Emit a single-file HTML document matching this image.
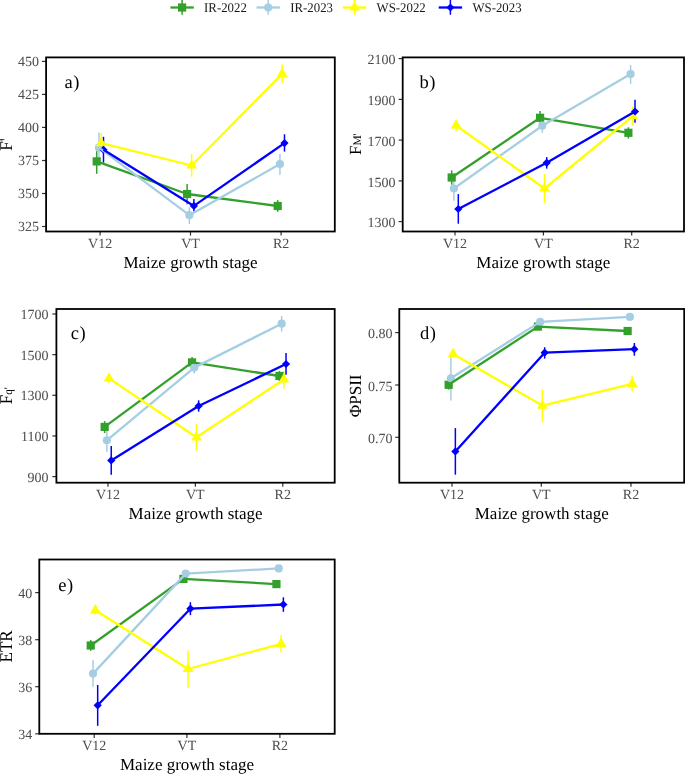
<!DOCTYPE html>
<html><head><meta charset="utf-8"><title>Maize growth stage chart</title>
<style>
html,body{margin:0;padding:0;background:#fff;}
body{width:685px;height:774px;overflow:hidden;}
svg{display:block;}
text{font-family:"Liberation Serif", serif;text-rendering:geometricPrecision;}
svg{will-change:transform;}
.yt{font-size:14px;fill:#4D4D4D;text-anchor:end;}
.xt{font-size:14px;fill:#4D4D4D;text-anchor:middle;}
.xtitle{font-size:17px;fill:#000;text-anchor:middle;}
.ytitle{font-size:17px;fill:#000;text-anchor:middle;}
.yl{font-size:17.9px;}
.sub{font-size:11.5px;}
.plab{font-size:18.5px;letter-spacing:0.6px;fill:#000;}
.leg{font-size:13.3px;fill:#1a1a1a;}
</style></head>
<body>
<svg width="685" height="774" viewBox="0 0 685 774">
<rect width="685" height="774" fill="#fff"/>
<line x1="170.4" y1="7.5" x2="193.8" y2="7.5" stroke="#33A02C" stroke-width="2.3"/>
<line x1="182.1" y1="-0.5" x2="182.1" y2="14.7" stroke="#33A02C" stroke-width="1.5"/>
<rect x="178" y="3.4" width="8.2" height="8.2" fill="#33A02C"/>
<text transform="translate(204.1,11.8) scale(0.965,1)" class="leg">IR-2022</text>
<line x1="256.5" y1="7.5" x2="279.9" y2="7.5" stroke="#A6CEE3" stroke-width="2.3"/>
<line x1="268.2" y1="-0.5" x2="268.2" y2="14.7" stroke="#A6CEE3" stroke-width="1.5"/>
<circle cx="268.2" cy="7.5" r="4.1" fill="#A6CEE3"/>
<text transform="translate(290.2,11.8) scale(0.965,1)" class="leg">IR-2023</text>
<line x1="342.9" y1="7.5" x2="366.3" y2="7.5" stroke="#FFFF00" stroke-width="2.3"/>
<line x1="354.6" y1="-0.5" x2="354.6" y2="14.7" stroke="#FFFF00" stroke-width="1.5"/>
<polygon points="354.6,1.25 360.01,10.62 349.19,10.62" fill="#FFFF00"/>
<text transform="translate(376.6,11.8) scale(0.965,1)" class="leg">WS-2022</text>
<line x1="438.7" y1="7.5" x2="462.1" y2="7.5" stroke="#0000FF" stroke-width="2.3"/>
<line x1="450.4" y1="-0.5" x2="450.4" y2="14.7" stroke="#0000FF" stroke-width="1.5"/>
<polygon points="450.4,3.4 454.5,7.5 450.4,11.6 446.3,7.5" fill="#0000FF"/>
<text transform="translate(472.4,11.8) scale(0.965,1)" class="leg">WS-2023</text>
<line x1="42" y1="61.4" x2="46.1" y2="61.4" stroke="#333333" stroke-width="1.2"/>
<text x="38.9" y="66.15" class="yt">450</text>
<line x1="42" y1="94.4" x2="46.1" y2="94.4" stroke="#333333" stroke-width="1.2"/>
<text x="38.9" y="99.15" class="yt">425</text>
<line x1="42" y1="127.4" x2="46.1" y2="127.4" stroke="#333333" stroke-width="1.2"/>
<text x="38.9" y="132.15" class="yt">400</text>
<line x1="42" y1="160.5" x2="46.1" y2="160.5" stroke="#333333" stroke-width="1.2"/>
<text x="38.9" y="165.25" class="yt">375</text>
<line x1="42" y1="193.5" x2="46.1" y2="193.5" stroke="#333333" stroke-width="1.2"/>
<text x="38.9" y="198.25" class="yt">350</text>
<line x1="42" y1="226.5" x2="46.1" y2="226.5" stroke="#333333" stroke-width="1.2"/>
<text x="38.9" y="231.25" class="yt">325</text>
<line x1="100.1" y1="231.5" x2="100.1" y2="235.6" stroke="#333333" stroke-width="1.2"/>
<text x="100.1" y="247.8" class="xt">V12</text>
<line x1="190.5" y1="231.5" x2="190.5" y2="235.6" stroke="#333333" stroke-width="1.2"/>
<text x="190.5" y="247.8" class="xt">VT</text>
<line x1="281.1" y1="231.5" x2="281.1" y2="235.6" stroke="#333333" stroke-width="1.2"/>
<text x="281.1" y="247.8" class="xt">R2</text>
<text transform="translate(190.45,267.5) scale(1,1)" class="xtitle">Maize growth stage</text>
<line x1="96.71" y1="151.1" x2="96.71" y2="173.8" stroke="#33A02C" stroke-width="1.5"/>
<line x1="187.11" y1="184.1" x2="187.11" y2="204.3" stroke="#33A02C" stroke-width="1.5"/>
<line x1="277.71" y1="200.1" x2="277.71" y2="211.8" stroke="#33A02C" stroke-width="1.5"/>
<line x1="98.97" y1="132.4" x2="98.97" y2="163" stroke="#A6CEE3" stroke-width="1.5"/>
<line x1="189.37" y1="207.4" x2="189.37" y2="224" stroke="#A6CEE3" stroke-width="1.5"/>
<line x1="279.97" y1="154.1" x2="279.97" y2="174.7" stroke="#A6CEE3" stroke-width="1.5"/>
<line x1="101.23" y1="132.9" x2="101.23" y2="150.5" stroke="#FFFF00" stroke-width="1.5"/>
<line x1="191.63" y1="154.1" x2="191.63" y2="176.7" stroke="#FFFF00" stroke-width="1.5"/>
<line x1="282.23" y1="64.6" x2="282.23" y2="82.7" stroke="#FFFF00" stroke-width="1.5"/>
<line x1="103.49" y1="136.8" x2="103.49" y2="162.7" stroke="#0000FF" stroke-width="1.5"/>
<line x1="193.89" y1="199.1" x2="193.89" y2="211.5" stroke="#0000FF" stroke-width="1.5"/>
<line x1="284.49" y1="134.3" x2="284.49" y2="151.6" stroke="#0000FF" stroke-width="1.5"/>
<rect x="92.61" y="157.3" width="8.2" height="8.2" fill="#33A02C"/>
<rect x="183.01" y="189.9" width="8.2" height="8.2" fill="#33A02C"/>
<rect x="273.61" y="201.9" width="8.2" height="8.2" fill="#33A02C"/>
<circle cx="98.97" cy="147.7" r="4.1" fill="#A6CEE3"/>
<circle cx="189.37" cy="215.2" r="4.1" fill="#A6CEE3"/>
<circle cx="279.97" cy="164.1" r="4.1" fill="#A6CEE3"/>
<polygon points="101.23,136.95 106.64,146.32 95.82,146.32" fill="#FFFF00"/>
<polygon points="191.63,159.25 197.04,168.62 186.22,168.62" fill="#FFFF00"/>
<polygon points="282.23,67.55 287.64,76.92 276.82,76.92" fill="#FFFF00"/>
<polygon points="103.49,145.65 107.59,149.75 103.49,153.85 99.39,149.75" fill="#0000FF"/>
<polygon points="193.89,201.8 197.99,205.9 193.89,210 189.79,205.9" fill="#0000FF"/>
<polygon points="284.49,139 288.59,143.1 284.49,147.2 280.39,143.1" fill="#0000FF"/>
<polyline points="96.71,161.4 187.11,194 277.71,206" fill="none" stroke="#33A02C" stroke-width="2.3" stroke-linejoin="round"/>
<polyline points="98.97,147.7 189.37,215.2 279.97,164.1" fill="none" stroke="#A6CEE3" stroke-width="2.3" stroke-linejoin="round"/>
<polyline points="101.23,143.2 191.63,165.5 282.23,73.8" fill="none" stroke="#FFFF00" stroke-width="2.3" stroke-linejoin="round"/>
<polyline points="103.49,149.75 193.89,205.9 284.49,143.1" fill="none" stroke="#0000FF" stroke-width="2.3" stroke-linejoin="round"/>
<rect x="46.1" y="57.4" width="288.7" height="174.1" fill="none" stroke="#000" stroke-width="1.8"/>
<text x="64.4" y="88.2" class="plab">a)</text>
<line x1="398.6" y1="58.6" x2="402.7" y2="58.6" stroke="#333333" stroke-width="1.2"/>
<text x="395.5" y="64.35" class="yt">2100</text>
<line x1="398.6" y1="99.4" x2="402.7" y2="99.4" stroke="#333333" stroke-width="1.2"/>
<text x="395.5" y="105.15" class="yt">1900</text>
<line x1="398.6" y1="140.1" x2="402.7" y2="140.1" stroke="#333333" stroke-width="1.2"/>
<text x="395.5" y="145.85" class="yt">1700</text>
<line x1="398.6" y1="180.9" x2="402.7" y2="180.9" stroke="#333333" stroke-width="1.2"/>
<text x="395.5" y="186.65" class="yt">1500</text>
<line x1="398.6" y1="221.6" x2="402.7" y2="221.6" stroke="#333333" stroke-width="1.2"/>
<text x="395.5" y="227.35" class="yt">1300</text>
<line x1="455" y1="231.5" x2="455" y2="235.6" stroke="#333333" stroke-width="1.2"/>
<text x="455" y="247.8" class="xt">V12</text>
<line x1="543.4" y1="231.5" x2="543.4" y2="235.6" stroke="#333333" stroke-width="1.2"/>
<text x="543.4" y="247.8" class="xt">VT</text>
<line x1="631.7" y1="231.5" x2="631.7" y2="235.6" stroke="#333333" stroke-width="1.2"/>
<text x="631.7" y="247.8" class="xt">R2</text>
<text transform="translate(543.35,267.5) scale(1,1)" class="xtitle">Maize growth stage</text>
<line x1="451.69" y1="170.3" x2="451.69" y2="184.7" stroke="#33A02C" stroke-width="1.5"/>
<line x1="540.09" y1="111.1" x2="540.09" y2="124.5" stroke="#33A02C" stroke-width="1.5"/>
<line x1="628.39" y1="127.3" x2="628.39" y2="138.6" stroke="#33A02C" stroke-width="1.5"/>
<line x1="453.9" y1="176.3" x2="453.9" y2="200.7" stroke="#A6CEE3" stroke-width="1.5"/>
<line x1="542.3" y1="118.6" x2="542.3" y2="132.8" stroke="#A6CEE3" stroke-width="1.5"/>
<line x1="630.6" y1="64.9" x2="630.6" y2="83.8" stroke="#A6CEE3" stroke-width="1.5"/>
<line x1="456.1" y1="119.5" x2="456.1" y2="131.5" stroke="#FFFF00" stroke-width="1.5"/>
<line x1="544.5" y1="174.1" x2="544.5" y2="202.9" stroke="#FFFF00" stroke-width="1.5"/>
<line x1="632.8" y1="106.6" x2="632.8" y2="125.7" stroke="#FFFF00" stroke-width="1.5"/>
<line x1="458.31" y1="194.1" x2="458.31" y2="223.7" stroke="#0000FF" stroke-width="1.5"/>
<line x1="546.71" y1="157.1" x2="546.71" y2="168.6" stroke="#0000FF" stroke-width="1.5"/>
<line x1="635.01" y1="99.8" x2="635.01" y2="122.8" stroke="#0000FF" stroke-width="1.5"/>
<rect x="447.59" y="173.4" width="8.2" height="8.2" fill="#33A02C"/>
<rect x="535.99" y="113.7" width="8.2" height="8.2" fill="#33A02C"/>
<rect x="624.29" y="128.7" width="8.2" height="8.2" fill="#33A02C"/>
<circle cx="453.9" cy="188.5" r="4.1" fill="#A6CEE3"/>
<circle cx="542.3" cy="125.7" r="4.1" fill="#A6CEE3"/>
<circle cx="630.6" cy="74.1" r="4.1" fill="#A6CEE3"/>
<polygon points="456.1,119.25 461.52,128.62 450.69,128.62" fill="#FFFF00"/>
<polygon points="544.5,182.25 549.92,191.62 539.09,191.62" fill="#FFFF00"/>
<polygon points="632.8,109.95 638.22,119.32 627.39,119.32" fill="#FFFF00"/>
<polygon points="458.31,204.9 462.41,209 458.31,213.1 454.21,209" fill="#0000FF"/>
<polygon points="546.71,158.7 550.81,162.8 546.71,166.9 542.61,162.8" fill="#0000FF"/>
<polygon points="635.01,107.4 639.11,111.5 635.01,115.6 630.91,111.5" fill="#0000FF"/>
<polyline points="451.69,177.5 540.09,117.8 628.39,132.8" fill="none" stroke="#33A02C" stroke-width="2.3" stroke-linejoin="round"/>
<polyline points="453.9,188.5 542.3,125.7 630.6,74.1" fill="none" stroke="#A6CEE3" stroke-width="2.3" stroke-linejoin="round"/>
<polyline points="456.1,125.5 544.5,188.5 632.8,116.2" fill="none" stroke="#FFFF00" stroke-width="2.3" stroke-linejoin="round"/>
<polyline points="458.31,209 546.71,162.8 635.01,111.5" fill="none" stroke="#0000FF" stroke-width="2.3" stroke-linejoin="round"/>
<rect x="402.7" y="57.4" width="281.3" height="174.1" fill="none" stroke="#000" stroke-width="1.8"/>
<text x="419.4" y="88.2" class="plab">b)</text>
<line x1="52.3" y1="314" x2="56.4" y2="314" stroke="#333333" stroke-width="1.2"/>
<text x="48.5" y="318.9" class="yt">1700</text>
<line x1="52.3" y1="354.65" x2="56.4" y2="354.65" stroke="#333333" stroke-width="1.2"/>
<text x="48.5" y="359.55" class="yt">1500</text>
<line x1="52.3" y1="395.3" x2="56.4" y2="395.3" stroke="#333333" stroke-width="1.2"/>
<text x="48.5" y="400.2" class="yt">1300</text>
<line x1="52.3" y1="435.95" x2="56.4" y2="435.95" stroke="#333333" stroke-width="1.2"/>
<text x="48.5" y="440.85" class="yt">1100</text>
<line x1="52.3" y1="476.6" x2="56.4" y2="476.6" stroke="#333333" stroke-width="1.2"/>
<text x="48.5" y="481.5" class="yt">900</text>
<line x1="107.95" y1="482.7" x2="107.95" y2="486.8" stroke="#333333" stroke-width="1.2"/>
<text x="107.95" y="499" class="xt">V12</text>
<line x1="195.35" y1="482.7" x2="195.35" y2="486.8" stroke="#333333" stroke-width="1.2"/>
<text x="195.35" y="499" class="xt">VT</text>
<line x1="282.75" y1="482.7" x2="282.75" y2="486.8" stroke="#333333" stroke-width="1.2"/>
<text x="282.75" y="499" class="xt">R2</text>
<text transform="translate(195.55,518.7) scale(1,1)" class="xtitle">Maize growth stage</text>
<line x1="104.67" y1="421.1" x2="104.67" y2="433.1" stroke="#33A02C" stroke-width="1.5"/>
<line x1="192.07" y1="356.9" x2="192.07" y2="367.9" stroke="#33A02C" stroke-width="1.5"/>
<line x1="279.47" y1="370.9" x2="279.47" y2="381.1" stroke="#33A02C" stroke-width="1.5"/>
<line x1="106.86" y1="428.8" x2="106.86" y2="451.8" stroke="#A6CEE3" stroke-width="1.5"/>
<line x1="194.26" y1="361.7" x2="194.26" y2="373.5" stroke="#A6CEE3" stroke-width="1.5"/>
<line x1="281.66" y1="316" x2="281.66" y2="331.6" stroke="#A6CEE3" stroke-width="1.5"/>
<line x1="109.04" y1="373.5" x2="109.04" y2="383.3" stroke="#FFFF00" stroke-width="1.5"/>
<line x1="196.44" y1="424.1" x2="196.44" y2="450.5" stroke="#FFFF00" stroke-width="1.5"/>
<line x1="283.84" y1="370.8" x2="283.84" y2="388.8" stroke="#FFFF00" stroke-width="1.5"/>
<line x1="111.23" y1="446.1" x2="111.23" y2="474.7" stroke="#0000FF" stroke-width="1.5"/>
<line x1="198.63" y1="400.3" x2="198.63" y2="411.7" stroke="#0000FF" stroke-width="1.5"/>
<line x1="286.03" y1="353.1" x2="286.03" y2="374.8" stroke="#0000FF" stroke-width="1.5"/>
<rect x="100.57" y="422.8" width="8.2" height="8.2" fill="#33A02C"/>
<rect x="187.97" y="358.3" width="8.2" height="8.2" fill="#33A02C"/>
<rect x="275.37" y="371.9" width="8.2" height="8.2" fill="#33A02C"/>
<circle cx="106.86" cy="440.3" r="4.1" fill="#A6CEE3"/>
<circle cx="194.26" cy="367.6" r="4.1" fill="#A6CEE3"/>
<circle cx="281.66" cy="323.7" r="4.1" fill="#A6CEE3"/>
<polygon points="109.04,372.15 114.45,381.52 103.63,381.52" fill="#FFFF00"/>
<polygon points="196.44,431.05 201.85,440.42 191.03,440.42" fill="#FFFF00"/>
<polygon points="283.84,373.25 289.25,382.62 278.43,382.62" fill="#FFFF00"/>
<polygon points="111.23,456.3 115.33,460.4 111.23,464.5 107.13,460.4" fill="#0000FF"/>
<polygon points="198.63,401.9 202.73,406 198.63,410.1 194.53,406" fill="#0000FF"/>
<polygon points="286.03,359.9 290.13,364 286.03,368.1 281.93,364" fill="#0000FF"/>
<polyline points="104.67,426.9 192.07,362.4 279.47,376" fill="none" stroke="#33A02C" stroke-width="2.3" stroke-linejoin="round"/>
<polyline points="106.86,440.3 194.26,367.6 281.66,323.7" fill="none" stroke="#A6CEE3" stroke-width="2.3" stroke-linejoin="round"/>
<polyline points="109.04,378.4 196.44,437.3 283.84,379.5" fill="none" stroke="#FFFF00" stroke-width="2.3" stroke-linejoin="round"/>
<polyline points="111.23,460.4 198.63,406 286.03,364" fill="none" stroke="#0000FF" stroke-width="2.3" stroke-linejoin="round"/>
<rect x="56.4" y="309" width="278.3" height="173.7" fill="none" stroke="#000" stroke-width="1.8"/>
<text x="70.8" y="338.8" class="plab">c)</text>
<line x1="395.2" y1="332.6" x2="399.3" y2="332.6" stroke="#333333" stroke-width="1.2"/>
<text x="392.4" y="338.25" class="yt">0.80</text>
<line x1="395.2" y1="385" x2="399.3" y2="385" stroke="#333333" stroke-width="1.2"/>
<text x="392.4" y="390.65" class="yt">0.75</text>
<line x1="395.2" y1="437.3" x2="399.3" y2="437.3" stroke="#333333" stroke-width="1.2"/>
<text x="392.4" y="442.95" class="yt">0.70</text>
<line x1="452" y1="482.7" x2="452" y2="486.8" stroke="#333333" stroke-width="1.2"/>
<text x="452" y="499" class="xt">V12</text>
<line x1="541.3" y1="482.7" x2="541.3" y2="486.8" stroke="#333333" stroke-width="1.2"/>
<text x="541.3" y="499" class="xt">VT</text>
<line x1="631" y1="482.7" x2="631" y2="486.8" stroke="#333333" stroke-width="1.2"/>
<text x="631" y="499" class="xt">R2</text>
<text transform="translate(541.75,518.7) scale(1,1)" class="xtitle">Maize growth stage</text>
<line x1="448.64" y1="380" x2="448.64" y2="389.6" stroke="#33A02C" stroke-width="1.5"/>
<line x1="537.94" y1="324" x2="537.94" y2="329" stroke="#33A02C" stroke-width="1.5"/>
<line x1="627.64" y1="328.5" x2="627.64" y2="333.5" stroke="#33A02C" stroke-width="1.5"/>
<line x1="450.88" y1="357.2" x2="450.88" y2="400.5" stroke="#A6CEE3" stroke-width="1.5"/>
<line x1="540.18" y1="319.5" x2="540.18" y2="324.3" stroke="#A6CEE3" stroke-width="1.5"/>
<line x1="629.88" y1="314.5" x2="629.88" y2="319.3" stroke="#A6CEE3" stroke-width="1.5"/>
<line x1="453.12" y1="352" x2="453.12" y2="356.2" stroke="#FFFF00" stroke-width="1.5"/>
<line x1="542.42" y1="389.6" x2="542.42" y2="422.2" stroke="#FFFF00" stroke-width="1.5"/>
<line x1="632.12" y1="376.1" x2="632.12" y2="391.3" stroke="#FFFF00" stroke-width="1.5"/>
<line x1="455.36" y1="428.1" x2="455.36" y2="474.7" stroke="#0000FF" stroke-width="1.5"/>
<line x1="544.66" y1="347.2" x2="544.66" y2="358.6" stroke="#0000FF" stroke-width="1.5"/>
<line x1="634.36" y1="343" x2="634.36" y2="355.7" stroke="#0000FF" stroke-width="1.5"/>
<rect x="444.54" y="380.7" width="8.2" height="8.2" fill="#33A02C"/>
<rect x="533.84" y="322.5" width="8.2" height="8.2" fill="#33A02C"/>
<rect x="623.54" y="326.9" width="8.2" height="8.2" fill="#33A02C"/>
<circle cx="450.88" cy="378.3" r="4.1" fill="#A6CEE3"/>
<circle cx="540.18" cy="321.9" r="4.1" fill="#A6CEE3"/>
<circle cx="629.88" cy="316.9" r="4.1" fill="#A6CEE3"/>
<polygon points="453.12,347.85 458.53,357.22 447.71,357.22" fill="#FFFF00"/>
<polygon points="542.42,399.35 547.83,408.72 537.01,408.72" fill="#FFFF00"/>
<polygon points="632.12,377.55 637.53,386.92 626.71,386.92" fill="#FFFF00"/>
<polygon points="455.36,447.3 459.46,451.4 455.36,455.5 451.26,451.4" fill="#0000FF"/>
<polygon points="544.66,348.6 548.76,352.7 544.66,356.8 540.56,352.7" fill="#0000FF"/>
<polygon points="634.36,345.1 638.46,349.2 634.36,353.3 630.26,349.2" fill="#0000FF"/>
<polyline points="448.64,384.8 537.94,326.6 627.64,331" fill="none" stroke="#33A02C" stroke-width="2.3" stroke-linejoin="round"/>
<polyline points="450.88,378.3 540.18,321.9 629.88,316.9" fill="none" stroke="#A6CEE3" stroke-width="2.3" stroke-linejoin="round"/>
<polyline points="453.12,354.1 542.42,405.6 632.12,383.8" fill="none" stroke="#FFFF00" stroke-width="2.3" stroke-linejoin="round"/>
<polyline points="455.36,451.4 544.66,352.7 634.36,349.2" fill="none" stroke="#0000FF" stroke-width="2.3" stroke-linejoin="round"/>
<rect x="399.3" y="309" width="284.9" height="173.7" fill="none" stroke="#000" stroke-width="1.8"/>
<text x="419.9" y="338.5" class="plab">d)</text>
<line x1="35.2" y1="592.6" x2="39.3" y2="592.6" stroke="#333333" stroke-width="1.2"/>
<text x="32.3" y="597.85" class="yt">40</text>
<line x1="35.2" y1="639.7" x2="39.3" y2="639.7" stroke="#333333" stroke-width="1.2"/>
<text x="32.3" y="644.95" class="yt">38</text>
<line x1="35.2" y1="686.7" x2="39.3" y2="686.7" stroke="#333333" stroke-width="1.2"/>
<text x="32.3" y="691.95" class="yt">36</text>
<line x1="35.2" y1="733.8" x2="39.3" y2="733.8" stroke="#333333" stroke-width="1.2"/>
<text x="32.3" y="739.05" class="yt">34</text>
<line x1="94.2" y1="733.8" x2="94.2" y2="737.9" stroke="#333333" stroke-width="1.2"/>
<text x="94.2" y="750.1" class="xt">V12</text>
<line x1="186.9" y1="733.8" x2="186.9" y2="737.9" stroke="#333333" stroke-width="1.2"/>
<text x="186.9" y="750.1" class="xt">VT</text>
<line x1="279.9" y1="733.8" x2="279.9" y2="737.9" stroke="#333333" stroke-width="1.2"/>
<text x="279.9" y="750.1" class="xt">R2</text>
<text transform="translate(187,769.8) scale(1,1)" class="xtitle">Maize growth stage</text>
<line x1="90.72" y1="640" x2="90.72" y2="650.8" stroke="#33A02C" stroke-width="1.5"/>
<line x1="183.42" y1="576" x2="183.42" y2="582" stroke="#33A02C" stroke-width="1.5"/>
<line x1="276.42" y1="581.5" x2="276.42" y2="586.5" stroke="#33A02C" stroke-width="1.5"/>
<line x1="93.04" y1="660.2" x2="93.04" y2="686.8" stroke="#A6CEE3" stroke-width="1.5"/>
<line x1="185.74" y1="571" x2="185.74" y2="576" stroke="#A6CEE3" stroke-width="1.5"/>
<line x1="278.74" y1="566" x2="278.74" y2="571" stroke="#A6CEE3" stroke-width="1.5"/>
<line x1="95.36" y1="606.1" x2="95.36" y2="614.5" stroke="#FFFF00" stroke-width="1.5"/>
<line x1="188.06" y1="650.4" x2="188.06" y2="687.8" stroke="#FFFF00" stroke-width="1.5"/>
<line x1="281.06" y1="635.2" x2="281.06" y2="652.6" stroke="#FFFF00" stroke-width="1.5"/>
<line x1="97.68" y1="685" x2="97.68" y2="725.8" stroke="#0000FF" stroke-width="1.5"/>
<line x1="190.38" y1="602.2" x2="190.38" y2="615.2" stroke="#0000FF" stroke-width="1.5"/>
<line x1="283.38" y1="597.3" x2="283.38" y2="611.8" stroke="#0000FF" stroke-width="1.5"/>
<rect x="86.62" y="641.4" width="8.2" height="8.2" fill="#33A02C"/>
<rect x="179.32" y="574.8" width="8.2" height="8.2" fill="#33A02C"/>
<rect x="272.32" y="580" width="8.2" height="8.2" fill="#33A02C"/>
<circle cx="93.04" cy="673.6" r="4.1" fill="#A6CEE3"/>
<circle cx="185.74" cy="573.6" r="4.1" fill="#A6CEE3"/>
<circle cx="278.74" cy="568.4" r="4.1" fill="#A6CEE3"/>
<polygon points="95.36,604.05 100.77,613.42 89.95,613.42" fill="#FFFF00"/>
<polygon points="188.06,662.75 193.47,672.12 182.65,672.12" fill="#FFFF00"/>
<polygon points="281.06,637.65 286.47,647.02 275.65,647.02" fill="#FFFF00"/>
<polygon points="97.68,701.2 101.78,705.3 97.68,709.4 93.58,705.3" fill="#0000FF"/>
<polygon points="190.38,604.6 194.48,608.7 190.38,612.8 186.28,608.7" fill="#0000FF"/>
<polygon points="283.38,600.4 287.48,604.5 283.38,608.6 279.28,604.5" fill="#0000FF"/>
<polyline points="90.72,645.5 183.42,578.9 276.42,584.1" fill="none" stroke="#33A02C" stroke-width="2.3" stroke-linejoin="round"/>
<polyline points="93.04,673.6 185.74,573.6 278.74,568.4" fill="none" stroke="#A6CEE3" stroke-width="2.3" stroke-linejoin="round"/>
<polyline points="95.36,610.3 188.06,669 281.06,643.9" fill="none" stroke="#FFFF00" stroke-width="2.3" stroke-linejoin="round"/>
<polyline points="97.68,705.3 190.38,608.7 283.38,604.5" fill="none" stroke="#0000FF" stroke-width="2.3" stroke-linejoin="round"/>
<rect x="39.3" y="559.5" width="295.4" height="174.3" fill="none" stroke="#000" stroke-width="1.8"/>
<text x="58.3" y="590.8" class="plab">e)</text>
<text transform="translate(11.7,144.5) rotate(-90) scale(0.955,1)" class="ytitle yl">F'</text>
<text transform="translate(361,144.2) rotate(-90)" class="ytitle">F<tspan class="sub">M'</tspan></text>
<text transform="translate(11.7,395.8) rotate(-90) scale(0.955,1)" class="ytitle yl">F<tspan class="sub">q'</tspan></text>
<text transform="translate(361,395.8) rotate(-90)" class="ytitle">&#934;PSII</text>
<text transform="translate(11.7,646.4) rotate(-90) scale(0.955,1)" class="ytitle yl">ETR</text>
</svg>
</body></html>
